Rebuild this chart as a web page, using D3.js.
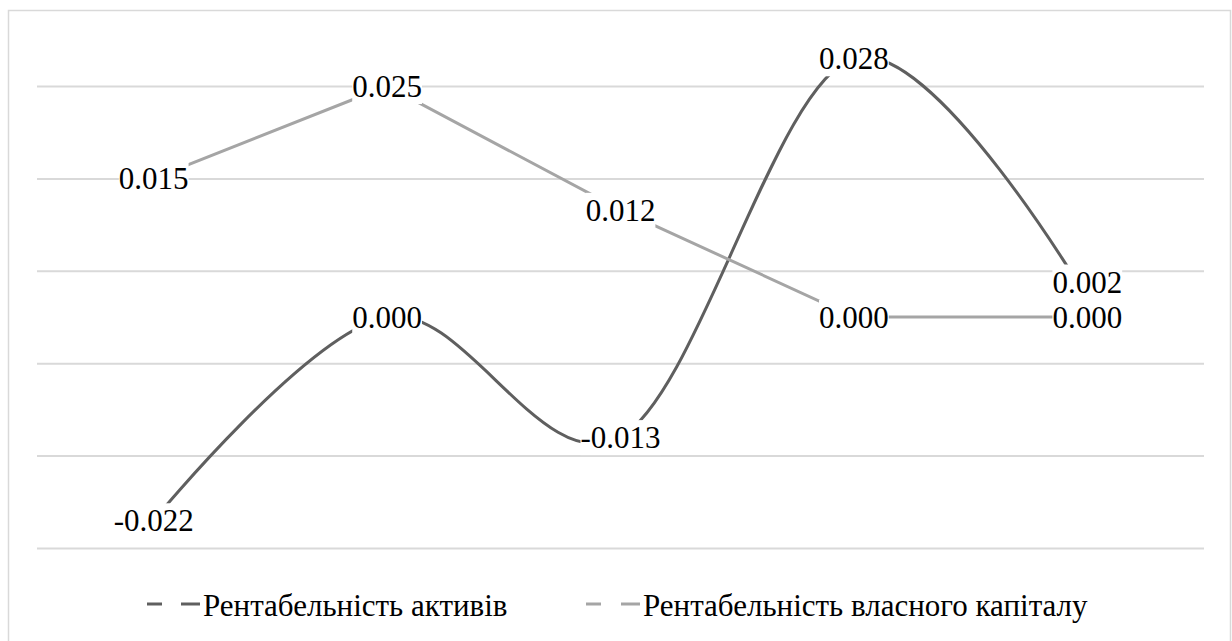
<!DOCTYPE html>
<html>
<head>
<meta charset="utf-8">
<script src="https://cdn.jsdelivr.net/npm/d3@7"></script>
<style>
  html, body { margin: 0; padding: 0; background: #fff; }
  svg { display: block; }
  text { font-family: "Liberation Serif", "Tinos", "Times New Roman", "DejaVu Serif", serif; }
</style>
</head>
<body>
<svg id="chart" width="1232" height="641"></svg>
<script>
// ---- data ----
const categories = ["1", "2", "3", "4", "5"];
const seriesNames = ["Рентабельність активів", "Рентабельність власного капіталу"];
const assetsValues = [-0.022, 0.000, -0.013, 0.028, 0.002];
const equityValues = [0.015, 0.025, 0.0116, 0.000, 0.000];
const yTicks = [-0.025, -0.015, -0.005, 0.005, 0.015, 0.025];

// ---- layout ----
const plot = { left: 37, right: 1204, top: 86, bottom: 548 };
const colors = ["#5f5f5f", "#a5a5a5"];

const svg = d3.select("#chart");

// outer frame
svg.append("rect")
  .attr("x", 8.5).attr("y", 10.5)
  .attr("width", 1222).attr("height", 700)
  .attr("fill", "#fff").attr("stroke", "#d9d9d9").attr("stroke-width", 1.5);

const x = d3.scalePoint().domain(categories).range([plot.left, plot.right]).padding(0.5);
const y = d3.scaleLinear().domain([-0.025, 0.025]).range([plot.bottom, plot.top]);

// gridlines
const grid = svg.append("g")
  .attr("transform", `translate(${plot.left},0)`)
  .call(d3.axisLeft(y).tickValues(yTicks).tickSize(-(plot.right - plot.left)).tickFormat(""));
grid.select(".domain").remove();
grid.selectAll(".tick line").attr("stroke", "#d9d9d9").attr("stroke-width", 2);

const fmt = d3.formatLocale({ decimal: ".", thousands: ",", grouping: [3], currency: ["", ""], minus: "-" }).format(".3f");

const series = [
  { name: seriesNames[0], values: assetsValues, color: colors[0], curve: d3.curveCatmullRom.alpha(0) },
  { name: seriesNames[1], values: equityValues, color: colors[1], curve: d3.curveLinear }
];

// lines
series.forEach(s => {
  const line = d3.line()
    .x((d, i) => x(categories[i]))
    .y(d => y(d))
    .curve(s.curve);
  svg.append("path")
    .datum(s.values)
    .attr("d", line)
    .attr("fill", "none")
    .attr("stroke", s.color)
    .attr("stroke-width", 3);
});

// data labels (white boxes centered on points)
series.forEach((s, si) => {
  s.values.forEach((v, i) => {
    const g = svg.append("g");
    // the last label of the first series is lifted above its point
    const dy = (si === 0 && i === 4) ? -17 : 0;
    const cx = x(categories[i]);
    const cy = y(v) + dy;
    const t = g.append("text")
      .attr("x", cx).attr("y", cy + 11)
      .attr("text-anchor", "middle")
      .attr("font-size", 31)
      .attr("fill", "#000")
      .text(fmt(v));
    const bb = t.node().getBBox();
    g.insert("rect", "text")
      .attr("x", bb.x).attr("y", bb.y)
      .attr("width", bb.width).attr("height", bb.height)
      .attr("fill", "#fff");
  });
});

// legend
const legendItems = [
  { name: seriesNames[0], color: colors[0], d1: [147, 162], d2: [181, 200], tx: 203 },
  { name: seriesNames[1], color: colors[1], d1: [586, 601], d2: [621, 640], tx: 643 }
];
const ly = 604;
legendItems.forEach(it => {
  const g = svg.append("g");
  [it.d1, it.d2].forEach(d => {
    g.append("line")
      .attr("x1", d[0]).attr("x2", d[1])
      .attr("y1", ly).attr("y2", ly)
      .attr("stroke", it.color).attr("stroke-width", 3);
  });
  g.append("text")
    .attr("x", it.tx).attr("y", 616)
    .attr("font-size", 31)
    .attr("fill", "#000")
    .text(it.name);
});
</script>
</body>
</html>
